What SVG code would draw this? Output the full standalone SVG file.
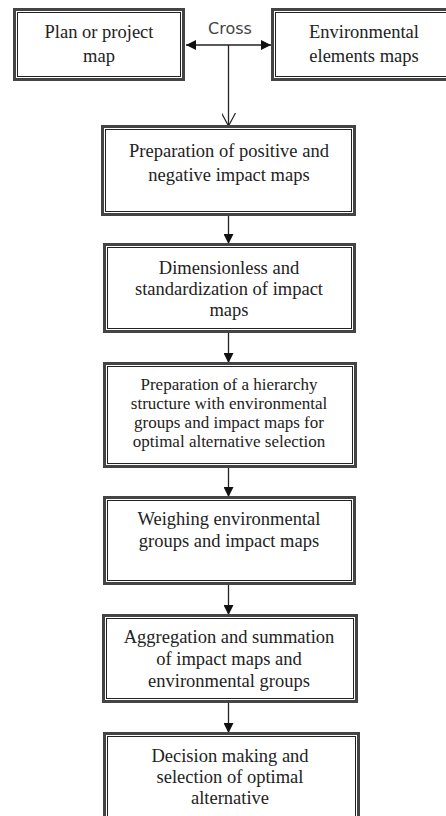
<svg xmlns="http://www.w3.org/2000/svg" width="446" height="816" viewBox="0 0 446 816">
<style>
.outer{fill:#fff;stroke:#444;stroke-width:3}
.inner{fill:none;stroke:#222;stroke-width:1}
.t{font-family:"Liberation Serif","Times New Roman",serif;font-size:18.5px;fill:#222;text-anchor:middle}
.ts{font-size:17px}
.lbl{font-family:"DejaVu Sans",sans-serif;font-size:16px;fill:#444;text-anchor:middle}
.c{stroke:#222;stroke-width:1.3;fill:none}
</style>
<defs>
<marker id="fa" markerUnits="userSpaceOnUse" viewBox="0 0 10 10" refX="10" refY="5" markerWidth="10" markerHeight="10" orient="auto-start-reverse">
<path d="M0,0 L10,5 L0,10 z" fill="#111"/>
</marker>
<marker id="oa" markerUnits="userSpaceOnUse" viewBox="0 0 14 14" refX="13" refY="7" markerWidth="14" markerHeight="14" orient="auto">
<path d="M0,0 L13,7 L0,14" fill="none" stroke="#222" stroke-width="1.2"/>
</marker>
</defs>
<rect width="446" height="816" fill="#fff"/>

<g id="connectors">
<line class="c" x1="186" y1="45" x2="271" y2="45" marker-start="url(#fa)" marker-end="url(#fa)"/>
<line class="c" x1="228.5" y1="45" x2="228.5" y2="126" marker-end="url(#oa)"/>
<line class="c" x1="228.5" y1="216" x2="228.5" y2="244" marker-end="url(#fa)"/>
<line class="c" x1="228.5" y1="333" x2="228.5" y2="363" marker-end="url(#fa)"/>
<line class="c" x1="228.5" y1="468" x2="228.5" y2="497" marker-end="url(#fa)"/>
<line class="c" x1="228.5" y1="585" x2="228.5" y2="615" marker-end="url(#fa)"/>
<line class="c" x1="228.5" y1="703" x2="228.5" y2="733" marker-end="url(#fa)"/>
</g>

<g id="cross-label">
<text class="lbl" x="230" y="34">Cross</text>
</g>

<g id="plan-map">
<rect class="outer" x="14.5" y="9.5" width="169" height="70"/>
<rect class="inner" x="17.5" y="12.5" width="163" height="64"/>
<text class="t" x="99" y="38">Plan or project</text>
<text class="t" x="99" y="62">map</text>
</g>

<g id="env-maps">
<rect class="outer" x="272.5" y="9.5" width="190" height="70"/>
<rect class="inner" x="275.5" y="12.5" width="184" height="64"/>
<text class="t" x="364" y="38">Environmental</text>
<text class="t" x="364" y="62">elements maps</text>
</g>

<g id="impact-maps">
<rect class="outer" x="102.5" y="126.5" width="252" height="88"/>
<rect class="inner" x="105.5" y="129.5" width="246" height="82"/>
<text class="t" x="229" y="157">Preparation of positive and</text>
<text class="t" x="229" y="181">negative impact maps</text>
</g>

<g id="dimensionless">
<rect class="outer" x="104.5" y="244.5" width="250" height="87"/>
<rect class="inner" x="107.5" y="247.5" width="244" height="81"/>
<text class="t" x="229" y="274">Dimensionless and</text>
<text class="t" x="229" y="295">standardization of impact</text>
<text class="t" x="229" y="316">maps</text>
</g>

<g id="hierarchy">
<rect class="outer" x="104.5" y="363.5" width="251" height="103"/>
<rect class="inner" x="107.5" y="366.5" width="245" height="97"/>
<text class="t ts" x="229" y="390">Preparation of a hierarchy</text>
<text class="t ts" x="229" y="409">structure with environmental</text>
<text class="t ts" x="229" y="428">groups and impact maps for</text>
<text class="t ts" x="229" y="447">optimal alternative selection</text>
</g>

<g id="weighing">
<rect class="outer" x="104.5" y="497.5" width="250" height="86"/>
<rect class="inner" x="107.5" y="500.5" width="244" height="80"/>
<text class="t" x="229" y="525">Weighing environmental</text>
<text class="t" x="229" y="547">groups and impact maps</text>
</g>

<g id="aggregation">
<rect class="outer" x="103.5" y="615.5" width="253" height="86"/>
<rect class="inner" x="106.5" y="618.5" width="247" height="80"/>
<text class="t" x="229" y="643">Aggregation and summation</text>
<text class="t" x="229" y="665">of impact maps and</text>
<text class="t" x="229" y="687">environmental groups</text>
</g>

<g id="decision">
<rect class="outer" x="104.5" y="733.5" width="254" height="95"/>
<rect class="inner" x="107.5" y="736.5" width="248" height="89"/>
<text class="t" x="230" y="762">Decision making and</text>
<text class="t" x="230" y="783">selection of optimal</text>
<text class="t" x="230" y="804">alternative</text>
</g>
</svg>
